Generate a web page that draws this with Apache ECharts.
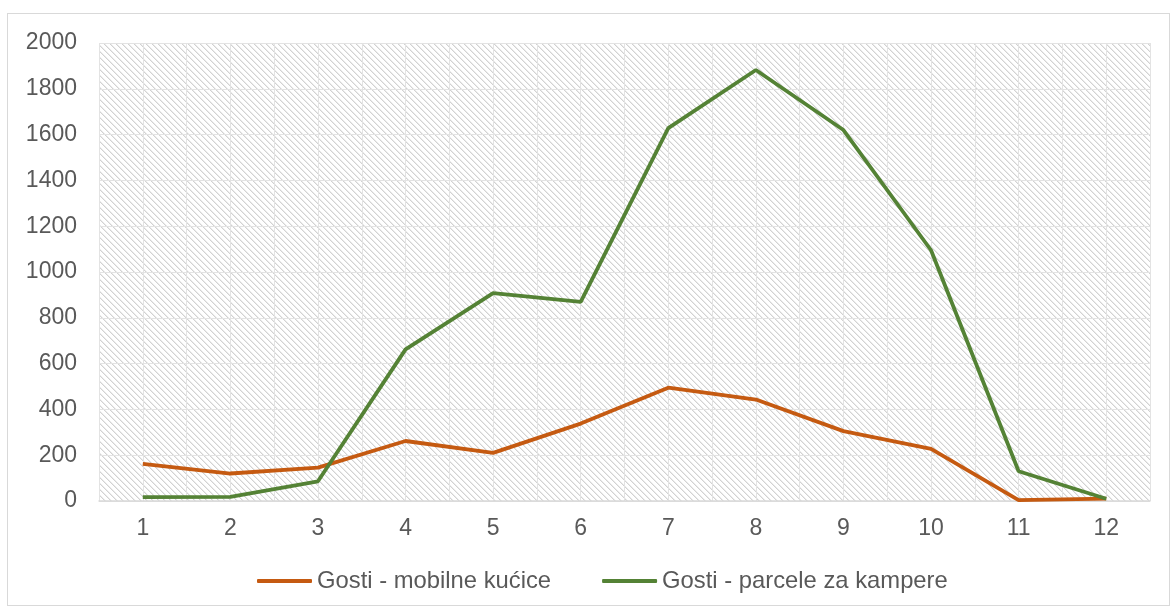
<!DOCTYPE html>
<html>
<head>
<meta charset="utf-8">
<script src="https://cdn.jsdelivr.net/npm/echarts@6/dist/echarts.min.js"></script>
<style>
  html, body { margin: 0; padding: 0; background: #fff; }
  #chart-container { width: 1175px; height: 610px; }
  #frame { position: absolute; left: 7px; top: 13px; width: 1163px; height: 593px; border: 1px solid #d9d9d9; box-sizing: border-box; pointer-events: none; }
</style>
</head>
<body>
<div id="chart-container"></div>
<div id="frame"></div>
<script>
var months = ['1', '2', '3', '4', '5', '6', '7', '8', '9', '10', '11', '12'];
var mobilneKucice = [162, 120, 146, 262, 210, 338, 495, 443, 305, 228, 4, 10];
var parceleKamperi = [17, 18, 86, 662, 908, 870, 1628, 1882, 1620, 1095, 130, 10];
var yTicks = [0, 200, 400, 600, 800, 1000, 1200, 1400, 1600, 1800, 2000];

var dom = document.getElementById('chart-container');
var myChart = echarts.init(dom, null, { renderer: 'canvas' });

// diagonal hatch fill for the plot area
var tile = document.createElement('canvas');
tile.width = 6;
tile.height = 6;
var ctx = tile.getContext('2d');
ctx.fillStyle = '#ffffff';
ctx.fillRect(0, 0, 6, 6);
for (var i = 0; i < 6; i++) {
  ctx.fillStyle = '#d2d2d2';
  ctx.fillRect(i, i, 1, 1);
  ctx.fillStyle = '#ebebeb';
  ctx.fillRect((i + 1) % 6, i, 1, 1);
}

var textColor = '#595959';
var fontFamily = '"Liberation Sans", Arial, sans-serif';

var option = {
  backgroundColor: '#fff',
  textStyle: { fontFamily: fontFamily },
  grid: {
    left: 99, right: 25, top: 43, bottom: 109,
    show: true,
    borderWidth: 0,
    backgroundColor: { image: tile, repeat: 'repeat' }
  },
  legend: {
    bottom: 12,
    left: 252,
    itemWidth: 55,
    itemHeight: 4,
    itemGap: 51,
    icon: 'roundRect',
    textStyle: { color: textColor, fontSize: 23.8, fontFamily: fontFamily },
    data: ['Gosti - mobilne kućice', 'Gosti - parcele za kampere']
  },
  xAxis: [
    {
      type: 'category',
      data: months,
      boundaryGap: true,
      axisLine: { lineStyle: { color: '#d9d9d9', width: 1.5 } },
      axisTick: { show: false },
      splitLine: { show: false },
      axisLabel: { color: textColor, fontSize: 23, margin: 16 }
    },
    {
      type: 'value',
      min: 0,
      max: 24,
      interval: 1,
      show: true,
      position: 'bottom',
      axisLine: { show: false },
      axisTick: { show: false },
      axisLabel: { show: false },
      splitLine: { show: true, lineStyle: { color: '#e3e3e3', width: 1 } }
    }
  ],
  yAxis: {
    type: 'value',
    min: 0,
    max: 2000,
    interval: 200,
    axisLine: { show: false },
    axisTick: { show: false },
    axisLabel: {
      color: textColor, fontSize: 23, margin: 22,
      formatter: function (v) { return yTicks.indexOf(v) >= 0 ? String(v) : ''; }
    },
    splitLine: { lineStyle: { color: '#e3e3e3', width: 1 } }
  },
  series: [
    {
      name: 'Gosti - mobilne kućice',
      type: 'line',
      xAxisIndex: 0,
      data: mobilneKucice,
      symbol: 'none',
      color: '#C55A11',
      lineStyle: { width: 3.8, color: '#C55A11' }
    },
    {
      name: 'Gosti - parcele za kampere',
      type: 'line',
      xAxisIndex: 0,
      data: parceleKamperi,
      symbol: 'none',
      color: '#548235',
      lineStyle: { width: 3.8, color: '#548235' }
    }
  ]
};

myChart.setOption(option);
window.addEventListener('resize', myChart.resize);
</script>
</body>
</html>
